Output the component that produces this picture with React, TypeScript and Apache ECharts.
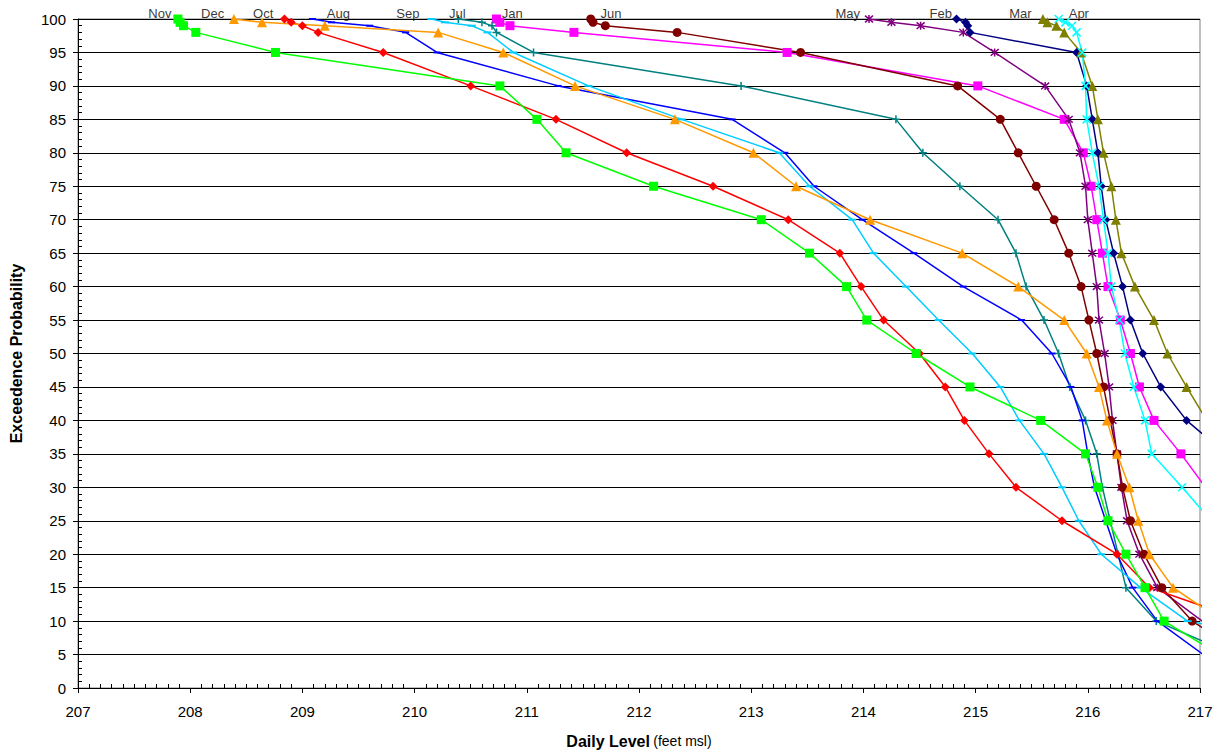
import React, { useEffect, useRef } from "react";
import * as echarts from "echarts";

// Exceedence probability levels (%)
const PROB = [100, 99.5, 99, 98, 95, 90, 85, 80, 75, 70, 65, 60, 55, 50, 45, 40, 35, 30, 25, 20, 15, 10, 5];

// Daily level (feet msl) for each probability, per month
const NOV = [207.89, 207.91, 207.94, 208.05, 208.76, 210.76, 211.09, 211.35, 212.13, 213.09, 213.52, 213.85, 214.03, 214.47, 214.95, 215.58, 215.98, 216.09, 216.18, 216.34, 216.51, 216.68, 217.17];
const DEC = [208.39, 208.64, 209.2, 210.21, 210.79, 211.43, 212.32, 213.02, 213.4, 214.06, 214.88, 215.38, 215.79, 215.99, 216.1, 216.17, 216.26, 216.37, 216.45, 216.55, 216.76, 217.2];
const OCT = [208.84, 208.9, 209.0, 209.14, 209.72, 210.5, 211.26, 211.89, 212.66, 213.33, 213.79, 213.98, 214.18, 214.5, 214.73, 214.9, 215.12, 215.36, 215.77, 216.26, 216.55, 217.41];
const AUG = [209.09, 209.26, 209.6, 209.92, 210.2, 211.28, 212.83, 213.3, 213.56, 213.99, 214.45, 214.89, 215.41, 215.68, 215.85, 215.95, 216.0, 216.06, 216.16, 216.26, 216.4, 216.62, 217.03];
const SEP = [210.15, 210.27, 210.51, 210.65, 210.88, 211.55, 212.38, 213.25, 213.52, 213.9, 214.09, 214.38, 214.67, 214.97, 215.22, 215.39, 215.61, 215.77, 215.92, 216.12, 216.47, 216.89, 218.5];
const JUL = [210.39, 210.6, 210.69, 210.73, 211.06, 212.91, 214.29, 214.53, 214.86, 215.2, 215.36, 215.45, 215.61, 215.74, 215.84, 215.98, 216.08, 216.13, 216.2, 216.27, 216.34, 216.61, 217.3];
const JAN = [210.73, 210.76, 210.85, 211.42, 213.32, 215.02, 215.79, 215.96, 216.03, 216.08, 216.13, 216.18, 216.29, 216.38, 216.46, 216.59, 216.83, 217.05];
const JUN = [211.57, 211.59, 211.7, 212.34, 213.44, 214.84, 215.22, 215.38, 215.54, 215.7, 215.83, 215.94, 216.01, 216.08, 216.14, 216.2, 216.26, 216.31, 216.38, 216.5, 216.66, 216.93, 217.4];
const MAY = [214.05, 214.25, 214.51, 214.89, 215.17, 215.62, 215.83, 215.93, 215.98, 216.0, 216.04, 216.08, 216.1, 216.15, 216.19, 216.22, 216.26, 216.3, 216.35, 216.46, 216.62, 217.02];
const FEB = [214.83, 214.91, 214.93, 214.95, 215.9, 215.99, 216.04, 216.09, 216.12, 216.16, 216.23, 216.31, 216.38, 216.49, 216.65, 216.88, 217.23];
const MAR = [215.6, 215.64, 215.72, 215.79, 215.94, 216.04, 216.09, 216.14, 216.21, 216.25, 216.3, 216.42, 216.59, 216.71, 216.88, 217.06];
const APR = [215.74, 215.8, 215.86, 215.9, 215.95, 215.98, 215.99, 216.04, 216.1, 216.14, 216.18, 216.21, 216.28, 216.33, 216.41, 216.51, 216.57, 216.84, 217.1];

// Month tags at the top of the curves
const MONTH_LABELS = ["Nov", "Dec", "Oct", "Aug", "Sep", "Jul", "Jan", "Jun", "May", "Feb", "Mar", "Apr"];
const MONTH_LABEL_X = [207.73, 208.2, 208.65, 209.32, 209.94, 210.38, 210.87, 211.75, 213.86, 214.69, 215.4, 215.92];

const X_TICKS = [207, 208, 209, 210, 211, 212, 213, 214, 215, 216, 217];

const FONT = "'Liberation Sans', Arial, sans-serif";

const P_X = "path://M0,0L10,10M10,0L0,10";
const P_PLUS = "path://M5,0L5,10M0,5L10,5";
const P_STAR = "path://M0,0L10,10M10,0L0,10M5,-1L5,11";

type Spec = { name: string; values: number[]; color: string; symbol: string; size: number | number[]; stroke?: boolean };

const SPECS: Spec[] = [
  { name: "Feb", values: FEB, color: "#000080", symbol: "diamond", size: 9 },
  { name: "Jan", values: JAN, color: "#FF00FF", symbol: "rect", size: 9 },
  { name: "Mar", values: MAR, color: "#808000", symbol: "triangle", size: 10 },
  { name: "Apr", values: APR, color: "#00FFFF", symbol: P_X, size: 8, stroke: true },
  { name: "May", values: MAY, color: "#800080", symbol: P_STAR, size: 8, stroke: true },
  { name: "Jun", values: JUN, color: "#800000", symbol: "circle", size: 9 },
  { name: "Jul", values: JUL, color: "#008080", symbol: P_PLUS, size: 8, stroke: true },
  { name: "Aug", values: AUG, color: "#0000FF", symbol: "rect", size: [7, 2] },
  { name: "Sep", values: SEP, color: "#00CCFF", symbol: "rect", size: [8, 2] },
  { name: "Oct", values: OCT, color: "#FF0000", symbol: "diamond", size: 9 },
  { name: "Nov", values: NOV, color: "#00FF00", symbol: "rect", size: 9 },
  { name: "Dec", values: DEC, color: "#FF9900", symbol: "triangle", size: 10 },
];

export default function App() {
  const ref = useRef<HTMLDivElement>(null);
  useEffect(() => {
    if (!ref.current) return;
    const chart = echarts.init(ref.current, null, { renderer: "svg" });
    const lineSeries = SPECS.map((s) => ({
      type: "line",
      name: s.name,
      data: s.values.map((v, i) => [v, PROB[i]]),
      symbol: s.symbol,
      symbolSize: s.size,
      showAllSymbol: true,
      clip: true,
      silent: true,
      lineStyle: { color: s.color, width: 1.5 },
      itemStyle: s.stroke
        ? { color: s.color, borderColor: s.color, borderWidth: 1.5 }
        : { color: s.color, borderWidth: 0 },
      emphasis: { disabled: true },
      z: 3,
    }));
    const splitColors: string[] = [];
    for (let i = 0; i < 21; i++) splitColors.push(i === 20 ? "#808080" : "#000000");
    chart.setOption({
      animation: false,
      textStyle: { fontFamily: FONT },
      grid: { left: 78, right: 22, top: 19, bottom: 67, show: true, borderColor: "#808080", borderWidth: 1, backgroundColor: "transparent" },
      xAxis: {
        type: "value",
        min: X_TICKS[0],
        max: X_TICKS[X_TICKS.length - 1],
        interval: 1,
        axisLine: { onZero: false, lineStyle: { color: "#000", width: 1 } },
        axisTick: { show: true, length: 5, inside: false, lineStyle: { color: "#000" } },
        minorTick: { show: true, splitNumber: 10, length: -4, lineStyle: { color: "#000" } },
        splitLine: { show: false },
        axisLabel: { color: "#000", fontSize: 15, margin: 16, fontFamily: FONT },
        name: "{b|Daily Level} {n|(feet msl)}",
        nameLocation: "middle",
        nameGap: 45,
        nameTextStyle: {
          color: "#000",
          rich: {
            b: { fontWeight: "bold", fontSize: 16, fontFamily: FONT, color: "#000" },
            n: { fontSize: 14, fontFamily: FONT, color: "#000" },
          },
        },
      },
      yAxis: {
        type: "value",
        min: 0,
        max: 100,
        interval: 5,
        axisLine: { onZero: false, lineStyle: { color: "#000", width: 1 } },
        axisTick: { show: true, length: 5, inside: false, lineStyle: { color: "#000" } },
        minorTick: { show: true, splitNumber: 5, length: -4, lineStyle: { color: "#000" } },
        splitLine: { show: true, showMinLine: false, lineStyle: { color: splitColors, width: 1 } },
        axisLabel: { color: "#000", fontSize: 15, margin: 12, fontFamily: FONT },
        name: "Exceedence Probability",
        nameLocation: "middle",
        nameGap: 54,
        nameTextStyle: { color: "#000", fontWeight: "bold", fontSize: 16, fontFamily: FONT },
      },
      series: [
        ...lineSeries,
        {
          type: "scatter",
          name: "labels",
          data: MONTH_LABEL_X.map((x, i) => ({ value: [x, 100], name: MONTH_LABELS[i] })),
          symbolSize: 1,
          itemStyle: { color: "rgba(0,0,0,0)" },
          clip: false,
          silent: true,
          z: 5,
          label: {
            show: true,
            position: "top",
            distance: -1,
            formatter: (p: any) => p.name,
            color: "#000",
            fontSize: 13,
            fontFamily: FONT,
          },
        },
      ],
    });
    return () => chart.dispose();
  }, []);
  return <div ref={ref} style={{ position: "absolute", left: 0, top: 0, width: 1222, height: 755, background: "#fff" }} />;
}
